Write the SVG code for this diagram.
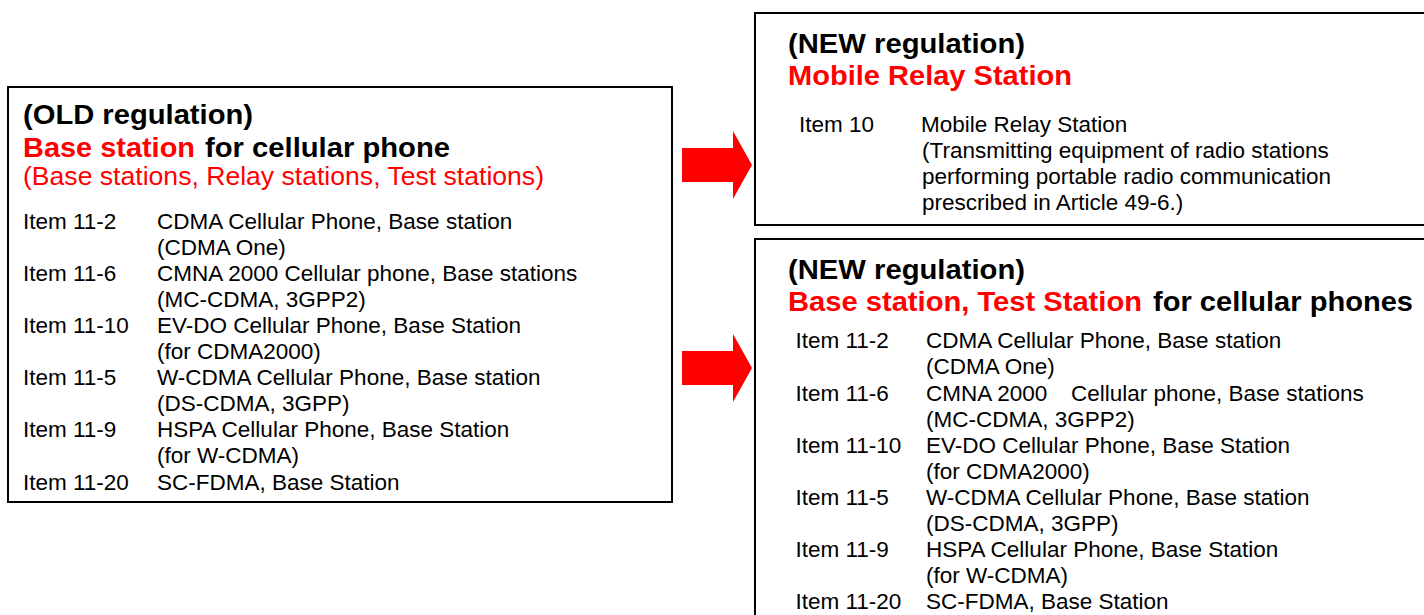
<svg xmlns="http://www.w3.org/2000/svg" width="1424" height="615" viewBox="0 0 1424 615">
  <style>
    .box { fill: #ffffff; stroke: #000000; stroke-width: 2; }
    .arrow { fill: #ff0000; stroke: none; }
    text { font-family: "Liberation Sans", Arial, sans-serif; }
    .h { font-size: 28.5px; font-weight: bold; fill: #000000; }
    .red { fill: #ff0000; }
    .sub { font-size: 26px; fill: #ff0000; }
    .it { font-size: 22.5px; fill: #000000; }
  </style>
  <rect width="1424" height="615" fill="#ffffff"/>

  <g id="old-regulation">
    <rect class="box" x="8" y="87" width="664" height="415"/>
    <text class="h" x="23" y="124" textLength="230" lengthAdjust="spacingAndGlyphs">(OLD regulation)</text>
    <text class="h" y="157"><tspan class="red" x="23" textLength="172" lengthAdjust="spacingAndGlyphs">Base station</tspan> <tspan x="205" textLength="245" lengthAdjust="spacingAndGlyphs">for cellular phone</tspan></text>
    <text class="sub" x="23" y="185" textLength="521" lengthAdjust="spacingAndGlyphs">(Base stations, Relay stations, Test stations)</text>
    <g class="it">
      <text x="23" y="228.5">Item 11-2</text>
      <text x="157" y="228.5">CDMA Cellular Phone, Base station</text>
      <text x="157" y="254.6">(CDMA One)</text>
      <text x="23" y="280.7">Item 11-6</text>
      <text x="157" y="280.7">CMNA 2000 Cellular phone, Base stations</text>
      <text x="157" y="306.8">(MC-CDMA, 3GPP2)</text>
      <text x="23" y="332.9">Item 11-10</text>
      <text x="157" y="332.9">EV-DO Cellular Phone, Base Station</text>
      <text x="157" y="359">(for CDMA2000)</text>
      <text x="23" y="385.1">Item 11-5</text>
      <text x="157" y="385.1">W-CDMA Cellular Phone, Base station</text>
      <text x="157" y="411.2">(DS-CDMA, 3GPP)</text>
      <text x="23" y="437.3">Item 11-9</text>
      <text x="157" y="437.3">HSPA Cellular Phone, Base Station</text>
      <text x="157" y="463.4">(for W-CDMA)</text>
      <text x="23" y="489.5">Item 11-20</text>
      <text x="157" y="489.5">SC-FDMA, Base Station</text>
    </g>
  </g>

  <g id="new-mobile-relay">
    <rect class="box" x="755" y="13" width="680" height="212"/>
    <text class="h" x="788" y="53" textLength="237" lengthAdjust="spacingAndGlyphs">(NEW regulation)</text>
    <text class="h red" x="788" y="85" textLength="284" lengthAdjust="spacingAndGlyphs">Mobile Relay Station</text>
    <g class="it">
      <text x="799" y="131.7">Item 10</text>
      <text x="921" y="131.7">Mobile Relay Station</text>
      <text x="922" y="157.8">(Transmitting equipment of radio stations</text>
      <text x="922" y="183.9">performing portable radio communication</text>
      <text x="922" y="210">prescribed in Article 49-6.)</text>
    </g>
  </g>

  <g id="new-base-test">
    <rect class="box" x="755" y="239" width="680" height="400"/>
    <text class="h" x="788" y="279" textLength="237" lengthAdjust="spacingAndGlyphs">(NEW regulation)</text>
    <text class="h" y="311"><tspan class="red" x="788" textLength="354" lengthAdjust="spacingAndGlyphs">Base station, Test Station</tspan> <tspan x="1153" textLength="260" lengthAdjust="spacingAndGlyphs">for cellular phones</tspan></text>
    <g class="it">
      <text x="795.5" y="348.3">Item 11-2</text>
      <text x="926" y="348.3">CDMA Cellular Phone, Base station</text>
      <text x="926" y="374.4">(CDMA One)</text>
      <text x="795.5" y="400.5">Item 11-6</text>
      <text x="926" y="400.5">CMNA 2000 <tspan x="1071">Cellular phone, Base stations</tspan></text>
      <text x="926" y="426.6">(MC-CDMA, 3GPP2)</text>
      <text x="795.5" y="452.7">Item 11-10</text>
      <text x="926" y="452.7">EV-DO Cellular Phone, Base Station</text>
      <text x="926" y="478.8">(for CDMA2000)</text>
      <text x="795.5" y="504.9">Item 11-5</text>
      <text x="926" y="504.9">W-CDMA Cellular Phone, Base station</text>
      <text x="926" y="531">(DS-CDMA, 3GPP)</text>
      <text x="795.5" y="557.1">Item 11-9</text>
      <text x="926" y="557.1">HSPA Cellular Phone, Base Station</text>
      <text x="926" y="583.2">(for W-CDMA)</text>
      <text x="795.5" y="609.3">Item 11-20</text>
      <text x="926" y="609.3">SC-FDMA, Base Station</text>
    </g>
  </g>

  <g id="connectors">
    <polygon class="arrow" points="682,148 733,148 733,131 752,165 733,199 733,182 682,182"/>
    <polygon class="arrow" points="682,351 733,351 733,334 752,368 733,402 733,385 682,385"/>
  </g>
</svg>
